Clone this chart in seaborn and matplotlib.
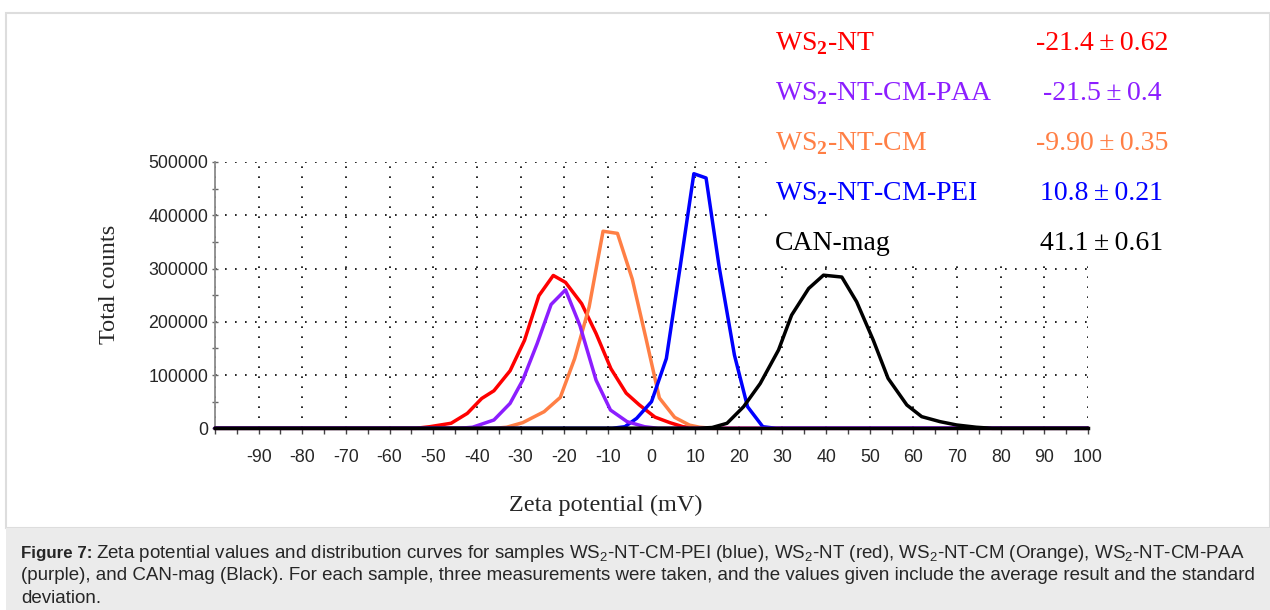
import matplotlib
matplotlib.use('Agg')
import matplotlib.pyplot as plt
from matplotlib.patches import Rectangle
from matplotlib.ticker import MultipleLocator, FixedLocator
import pandas as pd
import seaborn as sns

# zeta potential (mV) / total counts
red_x = [-100, -54, -50.8, -45.9, -42.2, -38.9, -36.1, -32.4, -29.1, -25.8, -22.5, -19.7, -16.0,
         -12.7, -9.3, -5.8, -2.8, 0.8, 4.2, 7.2, 10.5, 100]
red_y = [0, 0, 3000, 9500, 28000, 56000, 70500, 108000, 165000, 249000, 287000, 274000, 234000,
         178000, 112000, 66000, 44000, 21000, 10600, 3000, 0, 0]

purple_x = [-100, -44, -41.0, -36.1, -32.4, -29.5, -26.2, -23.0, -19.7, -16.4, -12.7, -9.4, -5.6, -1.6, 1.5, 100]
purple_y = [0, 0, 2000, 15600, 46800, 90400, 159000, 232500, 260000, 193000, 90400, 34300, 12500, 3000, 0, 0]

orange_x = [-100, -36, -33.2, -29.5, -24.6, -20.9, -17.6, -14.3, -11.1, -7.8, -4.4, -1.3, 1.8,
            5.3, 8.7, 11.0, 14, 100]
orange_y = [0, 0, 2000, 10600, 31200, 58000, 131000, 227500, 370000, 366000, 280000, 170000, 57000,
            20600, 6000, 2000, 0, 0]

blue_x = [-100, -9, -6.1, -3.4, 0.0, 3.4, 6.6, 9.7, 12.5, 15.5, 19.0, 22.0, 25.5, 28.5, 100]
blue_y = [0, 0, 3000, 18700, 50000, 131000, 305000, 478000, 470000, 303000, 137500, 40600, 3000, 0, 0]

black_x = [-100, 10.5, 13.9, 17.3, 21.1, 24.9, 29.1, 32.1, 36.0, 39.4, 43.6, 47.0, 50.8, 54.2,
           58.5, 61.9, 66.1, 69.9, 74.4, 78, 100]
black_y = [0, 0, 1500, 9400, 40600, 84000, 147000, 212500, 262500, 287500, 284000, 237500, 165600, 93750,
           43750, 21900, 12500, 6250, 2000, 0, 0]

# drawing order (black ends up on top)
series = ['WS2-NT', 'WS2-NT-CM', 'WS2-NT-CM-PEI', 'WS2-NT-CM-PAA', 'CAN-mag']
series_x = [red_x, orange_x, blue_x, purple_x, black_x]
series_y = [red_y, orange_y, blue_y, purple_y, black_y]
series_colors = ['#ff0000', '#ff7f45', '#0000ff', '#8c1eff', '#000000']

# legend table in the upper right
legend_names = ['WS$_\\mathbf{2}$-NT', 'WS$_\\mathbf{2}$-NT-CM-PAA', 'WS$_\\mathbf{2}$-NT-CM',
                'WS$_\\mathbf{2}$-NT-CM-PEI', 'CAN-mag']
legend_values = ['-21.4\u2009\u00b1\u20090.62', '-21.5\u2009\u00b1\u20090.4', '-9.90\u2009\u00b1\u20090.35',
                 '10.8\u2009\u00b1\u20090.21', '41.1\u2009\u00b1\u20090.61']
legend_colors = ['#ff0000', '#8c1eff', '#ff7f45', '#0000ff', '#000000']

x_ticks = list(range(-100, 101, 10))
x_ticklabels = [''] + [str(v) for v in range(-90, 101, 10)]
y_ticks = [0, 100000, 200000, 300000, 400000, 500000]
y_ticklabels = [str(v) for v in y_ticks]

rows = []
for name, xs, ys in zip(series, series_x, series_y):
    for a, b in zip(xs, ys):
        rows.append({'sample': name, 'zeta': a, 'counts': b})
df = pd.DataFrame(rows)

sns.set_style('white')
plt.rcParams['mathtext.fontset'] = 'custom'
plt.rcParams['mathtext.rm'] = 'Liberation Serif'
plt.rcParams['mathtext.bf'] = 'Liberation Serif:bold'
plt.rcParams['mathtext.sf'] = 'Liberation Sans'
plt.rcParams['font.family'] = ['Liberation Sans', 'DejaVu Sans']

W, H = 1270, 610
fig = plt.figure(figsize=(12.7, 6.1), dpi=100)

def fx(px):
    return px / W

def fy(py):
    return 1 - py / H

# outer frame and caption band
fig.patches.append(Rectangle((fx(6), fy(528)), fx(1270) - fx(6), fy(13) - fy(528),
                             transform=fig.transFigure, facecolor='white', edgecolor='#dddddd',
                             linewidth=1.5, zorder=-5))
fig.patches.append(Rectangle((fx(6), 0), 1 - fx(6), fy(528), transform=fig.transFigure,
                             facecolor='#ebebeb', edgecolor='none', zorder=-4))

ax = fig.add_axes([fx(215), fy(428.3), fx(1088) - fx(215), fy(162) - fy(428.3)])
ax.patch.set_alpha(0)

sns.lineplot(data=df, x='zeta', y='counts', hue='sample', hue_order=series,
             palette=series_colors, sort=False, estimator=None, legend=False,
             linewidth=2.5, ax=ax)
for ln in ax.lines:
    ln.set_clip_on(False)
    ln.set_zorder(3)

ax.set_xlim(-100, 100)
ax.set_ylim(0, 500000)

ax.xaxis.set_major_locator(FixedLocator(x_ticks))
ax.set_xticks(x_ticks, x_ticklabels)
ax.xaxis.set_minor_locator(MultipleLocator(5))
ax.set_yticks(y_ticks, y_ticklabels)
ax.yaxis.set_minor_locator(MultipleLocator(50000))

ax.set_axisbelow(True)
ax.grid(True, which='major', color='black', linestyle=(0, (1, 5)), linewidth=1.2)

for s in ['top', 'right']:
    ax.spines[s].set_visible(False)
ax.spines['left'].set_color('#8a8a8a')
ax.spines['left'].set_linewidth(1.3)
ax.spines['bottom'].set_color('black')
ax.spines['bottom'].set_linewidth(2.5)
ax.spines['bottom'].set_zorder(4)

ax.tick_params(axis='x', which='both', direction='out', length=4, width=1, color='#444444',
               pad=11, labelsize=12.8, bottom=True)
ax.tick_params(axis='y', which='both', direction='inout', length=5, width=1, color='#666666',
               pad=2.5, labelsize=12.8, left=True)

ax.set_xlabel('Zeta potential (mV)', fontsize=17.5, family=['Liberation Serif'])
ax.set_ylabel('Total counts', fontsize=17.5, family=['Liberation Serif'])
ax.xaxis.set_label_coords((606 - 215) / 873, (428.3 - 495) / 266.3)
ax.yaxis.set_label_coords((120 - 215) / 873, (428.3 - 284) / 266.3)

# white block behind the value table hides the grid there
fig.patches.append(Rectangle((fx(767), fy(258)), fx(1100) - fx(767), fy(15) - fy(258),
                             transform=fig.transFigure, facecolor='white', edgecolor='none', zorder=2))

row_y = [50, 100, 150, 200, 250]
for name, val, col, yy in zip(legend_names, legend_values, legend_colors, row_y):
    fig.text(fx(775), fy(yy), name, color=col, fontsize=20, family=['Liberation Serif'],
             ha='left', va='baseline', zorder=5)
    fig.text(fx(1102), fy(yy), val, color=col, fontsize=20, family=['Liberation Serif', 'DejaVu Serif'],
             ha='center', va='baseline', zorder=5)

# caption
cap_size = 13.5
bold = fig.text(fx(21), fy(558), 'Figure 7:', fontsize=12.2, fontweight='bold', va='baseline')
bb = bold.get_window_extent(renderer=fig.canvas.get_renderer())
fig.text((bb.x1 + 4) / W, fy(558),
         'Zeta potential values and distribution curves for samples WS$_\\mathsf{2}$-NT-CM-PEI (blue), '
         'WS$_\\mathsf{2}$-NT (red), WS$_\\mathsf{2}$-NT-CM (Orange), WS$_\\mathsf{2}$-NT-CM-PAA',
         fontsize=cap_size, va='baseline')
fig.text(fx(21), fy(580),
         '(purple), and CAN-mag (Black). For each sample, three measurements were taken, and the values '
         'given include the average result and the standard',
         fontsize=cap_size, va='baseline')
fig.text(fx(21), fy(603), 'deviation.', fontsize=cap_size, va='baseline')

fig.savefig('out.png', dpi=100)
